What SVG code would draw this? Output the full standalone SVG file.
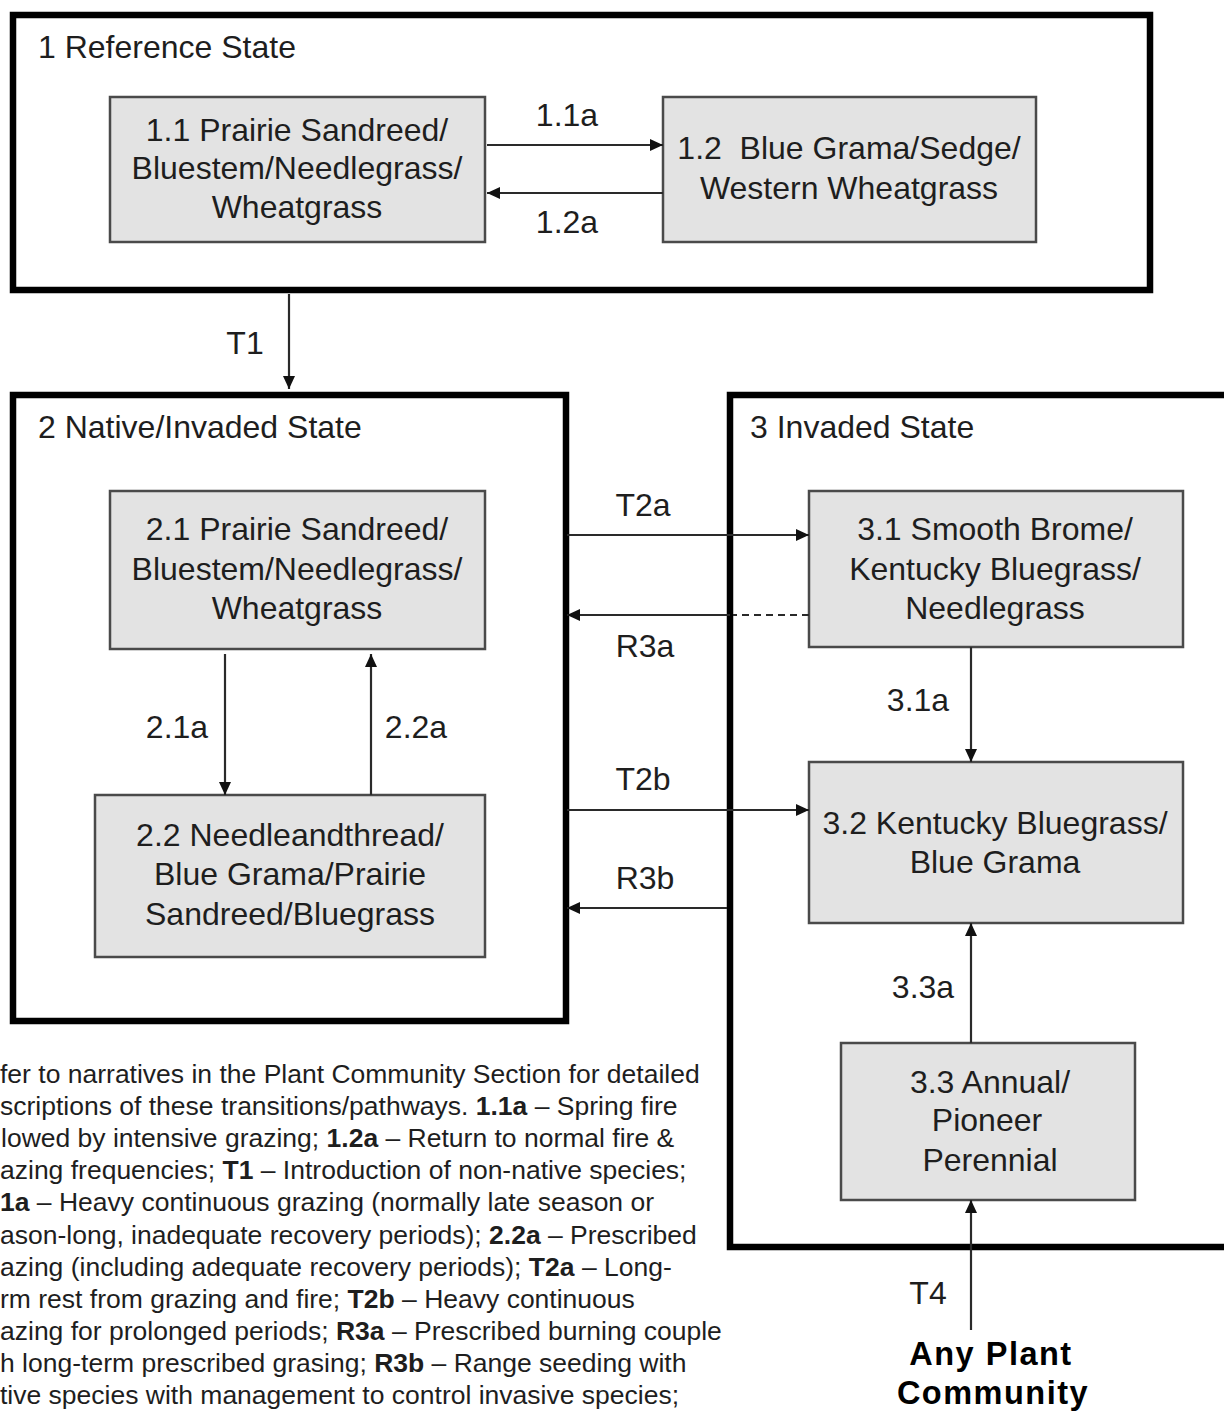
<svg xmlns="http://www.w3.org/2000/svg" width="1224" height="1411" viewBox="0 0 1224 1411">
<style>
text{font-family:"Liberation Sans",Arial,sans-serif;fill:#1e1e1e}
.st{fill:none;stroke:#000;stroke-width:6.5}
.bx{fill:#e3e3e3;stroke:#4a4a4a;stroke-width:2.5}
.t{font-size:32px}
.c{text-anchor:middle}
.ln{stroke:#2a2a2a;stroke-width:2.2;fill:none}
.dash{stroke-dasharray:7 5}
.nt{font-size:26.5px}
.b{font-weight:bold}
.any{font-size:32.5px;font-weight:bold;fill:#000;letter-spacing:1.5px}
</style>
<defs>
<marker id="ah" markerUnits="userSpaceOnUse" markerWidth="14" markerHeight="12" refX="13" refY="6" orient="auto">
<path d="M0,0 L13,6 L0,12 z" fill="#111"/>
</marker>
</defs>
<rect width="1224" height="1411" fill="#fff"/>

<g id="state1">
<rect class="st" x="13" y="15" width="1137" height="275"/>
<text class="t" x="38" y="58">1 Reference State</text>
</g>
<g id="state2">
<rect class="st" x="13" y="395" width="553" height="626"/>
<text class="t" x="38" y="438">2 Native/Invaded State</text>
</g>
<g id="state3">
<rect class="st" x="730" y="395" width="520" height="852"/>
<text class="t" x="750" y="438">3 Invaded State</text>
</g>

<g id="n1_1">
<rect class="bx" x="110" y="97" width="375" height="145"/>
<text class="t c" x="297" y="141">1.1 Prairie Sandreed/</text>
<text class="t c" x="297" y="179">Bluestem/Needlegrass/</text>
<text class="t c" x="297" y="218">Wheatgrass</text>
</g>
<g id="n1_2">
<rect class="bx" x="663" y="97" width="373" height="145"/>
<text class="t c" x="849" y="159" xml:space="preserve">1.2  Blue Grama/Sedge/</text>
<text class="t c" x="849" y="199">Western Wheatgrass</text>
</g>
<g id="n2_1">
<rect class="bx" x="110" y="491" width="375" height="158"/>
<text class="t c" x="297" y="540">2.1 Prairie Sandreed/</text>
<text class="t c" x="297" y="580">Bluestem/Needlegrass/</text>
<text class="t c" x="297" y="619">Wheatgrass</text>
</g>
<g id="n2_2">
<rect class="bx" x="95" y="795" width="390" height="162"/>
<text class="t c" x="290" y="846">2.2 Needleandthread/</text>
<text class="t c" x="290" y="885">Blue Grama/Prairie</text>
<text class="t c" x="290" y="925">Sandreed/Bluegrass</text>
</g>
<g id="n3_1">
<rect class="bx" x="809" y="491" width="374" height="156"/>
<text class="t c" x="995" y="540">3.1 Smooth Brome/</text>
<text class="t c" x="995" y="580">Kentucky Bluegrass/</text>
<text class="t c" x="995" y="619">Needlegrass</text>
</g>
<g id="n3_2">
<rect class="bx" x="809" y="762" width="374" height="161"/>
<text class="t c" x="995" y="834">3.2 Kentucky Bluegrass/</text>
<text class="t c" x="995" y="873">Blue Grama</text>
</g>
<g id="n3_3">
<rect class="bx" x="841" y="1043" width="294" height="157"/>
<text class="t c" x="990" y="1093">3.3 Annual/</text>
<text class="t c" x="987" y="1131">Pioneer</text>
<text class="t c" x="990" y="1171">Perennial</text>
</g>
<g id="any">
<text class="any c" x="991" y="1365">Any Plant</text>
<text class="any c" x="993" y="1404">Community</text>
</g>

<g id="connectors">
<line class="ln" x1="487" y1="145" x2="663" y2="145" marker-end="url(#ah)"/>
<line class="ln" x1="663" y1="193" x2="487" y2="193" marker-end="url(#ah)"/>
<line class="ln" x1="289" y1="294" x2="289" y2="389" marker-end="url(#ah)"/>
<line class="ln" x1="225" y1="654" x2="225" y2="795" marker-end="url(#ah)"/>
<line class="ln" x1="371" y1="795" x2="371" y2="654" marker-end="url(#ah)"/>
<line class="ln" x1="567" y1="535" x2="809" y2="535" marker-end="url(#ah)"/>
<line class="ln dash" x1="809" y1="615" x2="733" y2="615"/>
<line class="ln" x1="730" y1="615" x2="567" y2="615" marker-end="url(#ah)"/>
<line class="ln" x1="567" y1="810" x2="809" y2="810" marker-end="url(#ah)"/>
<line class="ln" x1="727" y1="908" x2="567" y2="908" marker-end="url(#ah)"/>
<line class="ln" x1="971" y1="647" x2="971" y2="762" marker-end="url(#ah)"/>
<line class="ln" x1="971" y1="1043" x2="971" y2="923" marker-end="url(#ah)"/>
<line class="ln" x1="971" y1="1330" x2="971" y2="1200" marker-end="url(#ah)"/>
<text class="t c" x="567" y="126">1.1a</text>
<text class="t c" x="567" y="233">1.2a</text>
<text class="t c" x="245" y="354">T1</text>
<text class="t c" x="177" y="738">2.1a</text>
<text class="t c" x="416" y="738">2.2a</text>
<text class="t c" x="643" y="516">T2a</text>
<text class="t c" x="645" y="657">R3a</text>
<text class="t c" x="643" y="790">T2b</text>
<text class="t c" x="645" y="889">R3b</text>
<text class="t c" x="918" y="711">3.1a</text>
<text class="t c" x="923" y="998">3.3a</text>
<text class="t c" x="928" y="1304">T4</text>
</g>

<g id="notes">
<text class="nt" x="0" y="1083">fer to narratives in the Plant Community Section for detailed</text>
<text class="nt" x="0" y="1115">scriptions of these transitions/pathways. <tspan class="b">1.1a</tspan> – Spring fire</text>
<text class="nt" x="1" y="1147">lowed by intensive grazing; <tspan class="b">1.2a</tspan> – Return to normal fire &amp;</text>
<text class="nt" x="0" y="1179">azing frequencies; <tspan class="b">T1</tspan> – Introduction of non-native species;</text>
<text class="nt" x="0" y="1211"><tspan class="b">1a</tspan> – Heavy continuous grazing (normally late season or</text>
<text class="nt" x="0" y="1244">ason-long, inadequate recovery periods); <tspan class="b">2.2a</tspan> – Prescribed</text>
<text class="nt" x="0" y="1276">azing (including adequate recovery periods); <tspan class="b">T2a</tspan> – Long-</text>
<text class="nt" x="0" y="1308">rm rest from grazing and fire; <tspan class="b">T2b</tspan> – Heavy continuous</text>
<text class="nt" x="0" y="1340">azing for prolonged periods; <tspan class="b">R3a</tspan> – Prescribed burning couple</text>
<text class="nt" x="0" y="1372">h long-term prescribed grasing; <tspan class="b">R3b</tspan> – Range seeding with</text>
<text class="nt" x="0" y="1404">tive species with management to control invasive species;</text>
</g>
</svg>
